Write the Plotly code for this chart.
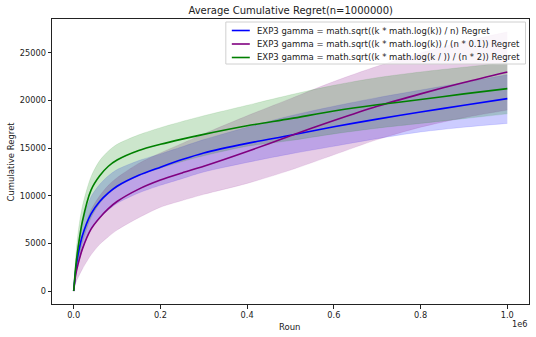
import plotly.graph_objects as go

# ---- data (x in rounds) ----
x_frac = [0, 0.005, 0.01, 0.02, 0.04, 0.06, 0.08, 0.1, 0.15, 0.2, 0.25, 0.3,
          0.4, 0.5, 0.6, 0.7, 0.8, 0.9, 1.0]
rounds = [v * 1_000_000 for v in x_frac]

blue_mean = [0, 2300, 3800, 5800, 8100, 9400, 10300, 11000, 12150, 13000, 13800, 14500,
             15500, 16350, 17250, 18050, 18800, 19500, 20200]
blue_upper = [0, 3000, 4900, 7300, 9900, 11200, 12100, 12750, 13700, 14400, 15150, 15900,
              17200, 18400, 19400, 20300, 21100, 21900, 22700]
blue_lower = [0, 1700, 2800, 4400, 6500, 7700, 8500, 9200, 10300, 11100, 11800, 12500,
              13500, 14400, 15200, 16000, 16700, 17200, 17600]

purple_mean = [0, 1800, 2800, 4400, 6500, 7700, 8650, 9400, 10700, 11650, 12400, 13100,
               14650, 16300, 17900, 19400, 20700, 21900, 23000]
purple_upper = [0, 2500, 3900, 5900, 8500, 10000, 11100, 11900, 13400, 14500, 15500, 16500,
                18400, 20200, 22000, 23600, 25000, 26200, 27200]
purple_lower = [0, 900, 1400, 2300, 3800, 4900, 5700, 6400, 7700, 8800, 9500, 10150,
                11300, 12700, 14300, 15900, 17200, 18200, 19000]

green_mean = [0, 2700, 4500, 7300, 10600, 12100, 13100, 13750, 14750, 15400, 15950, 16450,
              17350, 18100, 18900, 19550, 20100, 20700, 21250]
green_upper = [0, 3800, 6100, 8900, 12000, 13700, 14700, 15400, 16400, 17150, 17800, 18400,
               19500, 20600, 21600, 22400, 23000, 23500, 24000]
green_lower = [0, 1800, 3100, 5100, 7700, 9200, 10200, 10900, 12100, 12900, 13600, 14200,
               15200, 15800, 16500, 17100, 17600, 18100, 18600]

names = [
    "EXP3 gamma = math.sqrt((k * math.log(k)) / n) Regret",
    "EXP3 gamma = math.sqrt((k * math.log(k)) / (n * 0.1)) Regret",
    "EXP3 gamma = math.sqrt((k * math.log(k / )) / (n * 2)) Regret",
]
x_ticks = [0, 200000, 400000, 600000, 800000, 1000000]
x_ticktext = ["0.0", "0.2", "0.4", "0.6", "0.8", "1.0"]
y_ticks = [0, 5000, 10000, 15000, 20000, 25000]

series = [
    (blue_mean, blue_upper, blue_lower, "#0000ff", "rgba(0,0,255,0.2)"),
    (purple_mean, purple_upper, purple_lower, "#800080", "rgba(128,0,128,0.2)"),
    (green_mean, green_upper, green_lower, "#008000", "rgba(0,128,0,0.2)"),
]

fig = go.Figure()
for mean, up, lo, col, fcol in series:
    fig.add_trace(go.Scatter(x=rounds, y=lo, mode="lines", line=dict(width=0.5, color=fcol, shape="spline", smoothing=0.8),
                             showlegend=False, hoverinfo="skip"))
    fig.add_trace(go.Scatter(x=rounds, y=up, mode="lines", line=dict(width=0.5, color=fcol, shape="spline", smoothing=0.8),
                             fill="tonexty", fillcolor=fcol, showlegend=False, hoverinfo="skip"))
for (mean, up, lo, col, fcol), nm in zip(series, names):
    fig.add_trace(go.Scatter(x=rounds, y=mean, mode="lines", name=nm,
                             line=dict(width=1.6, color=col, shape="spline", smoothing=0.8),
                             showlegend=False))

L, R, T, B = 52, 529.5, 19, 304
W, H = 536, 337
pw, ph = R - L, B - T

def px(xp):
    return (xp - L) / pw

def py(yp):
    return (B - yp) / ph

font = "DejaVu Sans"
shapes = []
annotations = []
# legend box
shapes.append(dict(type="rect", xref="paper", yref="paper", x0=px(226), x1=px(526), y0=py(64), y1=py(22),
                   line=dict(color="#d0d0d0", width=1), fillcolor="rgba(255,255,255,0.8)", layer="above"))
rows = [30.5, 44, 57.5]
for yy, (mean, up, lo, col, fcol), nm in zip(rows, series, names):
    shapes.append(dict(type="line", xref="paper", yref="paper", x0=px(232), x1=px(250), y0=py(yy), y1=py(yy),
                       line=dict(color=col, width=1.6), layer="above"))
    annotations.append(dict(xref="paper", yref="paper", x=px(255), y=py(yy), text=nm, showarrow=False,
                            xanchor="left", yanchor="middle", font=dict(family=font, size=8.5, color="#222")))

annotations.append(dict(xref="paper", yref="paper", x=px(290.7), y=py(327), text="Roun", showarrow=False,
                        xanchor="center", yanchor="middle", font=dict(family=font, size=8.5, color="#222")))
annotations.append(dict(xref="paper", yref="paper", x=px(10), y=py(161.5), text="Cumulative Regret", showarrow=False,
                        textangle=-90, xanchor="center", yanchor="middle", font=dict(family=font, size=8.5, color="#222")))
annotations.append(dict(xref="paper", yref="paper", x=1.0, y=py(324), text="1e6", showarrow=False,
                        xanchor="right", yanchor="middle", font=dict(family=font, size=8.2, color="#222")))

fig.update_layout(
    width=W, height=H,
    margin=dict(l=L, r=W - R, t=T, b=H - B),
    paper_bgcolor="white", plot_bgcolor="white",
    title=dict(text="Average Cumulative Regret(n=1000000)", x=290.7 / W, xanchor="center",
               y=1 - 10.5 / H, yanchor="middle", font=dict(family=font, size=10, color="#222")),
    shapes=shapes, annotations=annotations,
    showlegend=False,
)
fig.update_xaxes(range=[-50000, 1050000], tickvals=x_ticks, ticktext=x_ticktext,
                 showgrid=False, zeroline=False, showline=True, linecolor="#222", linewidth=1, mirror=True,
                 ticks="outside", ticklen=3.5, tickcolor="#222", tickfont=dict(family=font, size=8.2, color="#222"))
fig.update_yaxes(range=[-1360, 28560], tickvals=y_ticks, tickformat="d",
                 showgrid=False, zeroline=False, showline=True, linecolor="#222", linewidth=1, mirror=True,
                 ticks="outside", ticklen=3.5, tickcolor="#222", tickfont=dict(family=font, size=8.2, color="#222"))

fig.write_html("out.html")
